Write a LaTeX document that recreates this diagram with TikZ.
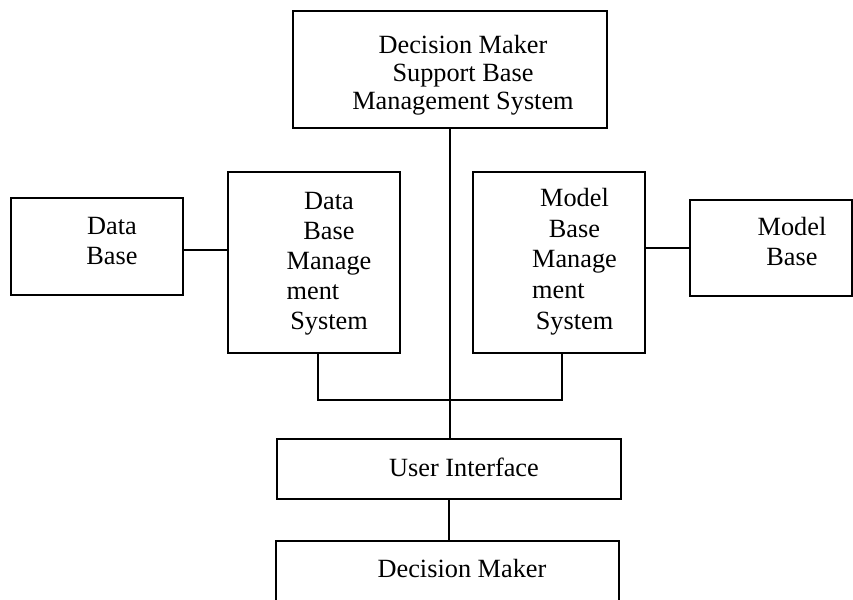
\documentclass[tikz,border=0pt]{standalone}
\usepackage{fontspec}
\setmainfont{Liberation Serif}
% stacked lines whose first baseline is the box baseline
\newcommand\stacktext[2]{{\renewcommand\arraystretch{#1}\begin{tabular}[t]{@{}c@{}}#2\end{tabular}}}
\begin{document}
\begin{tikzpicture}[x=1pt,y=-1pt,
  box/.style={draw, line width=1.8pt, inner sep=0pt, fill=white},
  lbl/.style={font=\fontsize{26.3}{30}\selectfont, inner sep=0pt, anchor=base},
  wire/.style={line width=1.8pt}]
\clip (0,0) rectangle (853,599);
\fill[white] (0,0) rectangle (853,599);

% boxes
\node[box, minimum width=314pt,   minimum height=117pt]  (dmsbms) at (450,69.5) {};
\node[box, minimum width=172.3pt, minimum height=96.7pt] (db)     at (97.2,246.7) {};
\node[box, minimum width=172.3pt, minimum height=181pt]  (dbms)   at (313.9,262.2) {};
\node[box, minimum width=172.3pt, minimum height=181pt]  (mbms)   at (558.9,262.2) {};
\node[box, minimum width=162pt,   minimum height=95.7pt] (mb)     at (771,247.9) {};
\node[box, minimum width=344.3pt, minimum height=60pt]   (ui)     at (449,469.3) {};
\node[box, minimum width=343.3pt, minimum height=99pt]   (dm)     at (447.4,590.5) {};

% labels
\node[lbl] (dmsbmsT) at (463,53.3) {\stacktext{0.944}{Decision Maker\\Support Base\\Management System}};
\node[lbl] (dbT)   at (112,234)   {\stacktext{1}{Data\\Base}};
\node[lbl] (dbmsT) at (329,209)   {\stacktext{1}{Data\\Base\\Manage\\\rlap{ment}\phantom{Manage}\\System}};
\node[lbl] (mbmsT) at (574.5,206.7) {\stacktext{1.02}{Model\\Base\\Manage\\\rlap{ment}\phantom{Manage}\\System}};
\node[lbl] (mbT)   at (792,235)   {\stacktext{1.03}{Model\\Base}};
\node[lbl] (uiT)   at (464,476)   {User Interface};
\node[lbl] (dmT)   at (462,577)   {Decision Maker};

% connectors
\coordinate (bus) at (450,400);
\draw[wire] (dmsbms.south) -- (dmsbms.south |- ui.north);
\draw[wire] ([yshift=-3pt]db.east) -- ([yshift=-3pt]db.east -| dbms.west);
\draw[wire] (mb.west -| mbms.east) -- (mb.west);
\draw[wire] ([xshift=4pt]dbms.south) |- (bus) -| ([xshift=3pt]mbms.south);
\draw[wire] (ui.south) -- (ui.south |- dm.north);
\end{tikzpicture}
\end{document}
